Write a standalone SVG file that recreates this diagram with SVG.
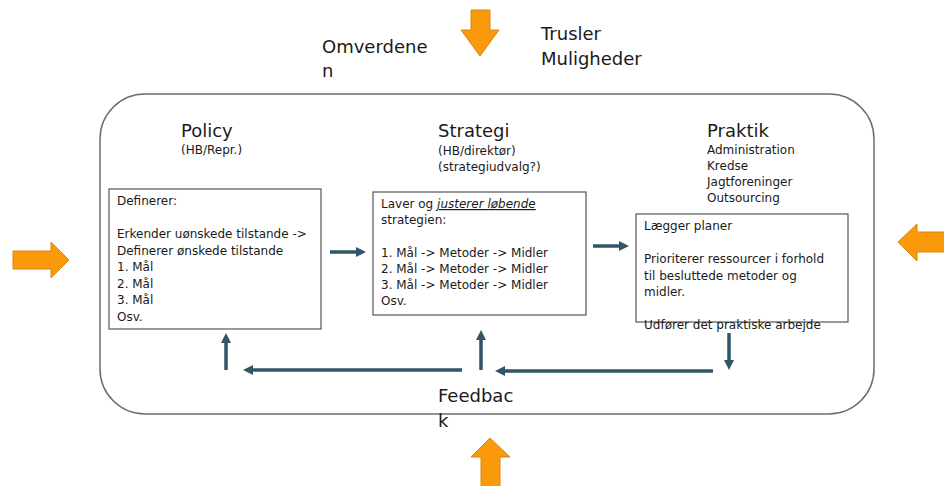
<svg xmlns="http://www.w3.org/2000/svg" width="944" height="486" viewBox="0 0 944 486">
<style>
text{font-family:"DejaVu Sans","Liberation Sans",sans-serif;fill:#1a1a1a}
.big{font-size:18px}
.title{font-size:18px}
.sub{font-size:12px}
.body{font-size:12px}
.box{fill:#fff;stroke:#555;stroke-width:1.2}
.orange{fill:#fa9a0a;stroke:#d98612;stroke-width:1}
.conn{stroke:#2f5567;stroke-width:3.5;fill:none}
</style>
<defs>
<marker id="ah" viewBox="0 0 10 10" refX="0" refY="5" markerUnits="userSpaceOnUse" markerWidth="10" markerHeight="11" orient="auto">
<path d="M0,0 L10,5 L0,10 z" fill="#2f5567"/>
</marker>
</defs>
<rect id="frame" x="100" y="94" width="774" height="320" rx="45" ry="45" fill="none" stroke="#6e6e6e" stroke-width="1.5"/>
<g id="arrow-top"><polygon class="orange" points="471,10 490,10 490,30 499,30 480,56 461,30 471,30"/></g>
<g id="arrow-bottom"><polygon class="orange" points="490,438 510,457 500,457 500,490 481,490 481,457 471,457"/></g>
<g id="arrow-left"><polygon class="orange" points="13,251 51,251 51,242 69,260 51,278 51,269 13,269"/></g>
<g id="arrow-right"><polygon class="orange" points="898,242 917,224 917,232 948,232 948,252 917,252 917,261"/></g>
<g id="omverdenen"><text class="big" x="322" y="53">Omverdene</text><text class="big" x="322" y="77">n</text></g>
<g id="trusler"><text class="big" x="541" y="40">Trusler</text><text class="big" x="541" y="65">Muligheder</text></g>
<g id="policy">
<text class="title" x="181" y="137">Policy</text>
<text class="sub" x="181" y="154">(HB/Repr.)</text>
<rect class="box" x="109" y="189" width="212" height="140"/>
<text class="body" x="117" y="205">Definerer:</text>
<text class="body" x="117" y="238">Erkender uønskede tilstande -&gt;</text>
<text class="body" x="117" y="254.5">Definerer ønskede tilstande</text>
<text class="body" x="117" y="271">1. Mål</text>
<text class="body" x="117" y="287.5">2. Mål</text>
<text class="body" x="117" y="304">3. Mål</text>
<text class="body" x="117" y="320.5">Osv.</text>
</g>
<g id="strategi">
<text class="title" x="438" y="137">Strategi</text>
<text class="sub" x="438" y="155">(HB/direktør)</text>
<text class="sub" x="438" y="171">(strategiudvalg?)</text>
<rect class="box" x="373" y="192" width="213" height="123"/>
<text class="body" x="381" y="208">Laver og <tspan font-style="italic" text-decoration="underline">justerer løbende</tspan></text>
<text class="body" x="381" y="224">strategien:</text>
<text class="body" x="381" y="257">1. Mål -&gt; Metoder -&gt; Midler</text>
<text class="body" x="381" y="273">2. Mål -&gt; Metoder -&gt; Midler</text>
<text class="body" x="381" y="289">3. Mål -&gt; Metoder -&gt; Midler</text>
<text class="body" x="381" y="305">Osv.</text>
</g>
<g id="praktik">
<text class="title" x="707" y="137">Praktik</text>
<text class="sub" x="707" y="154">Administration</text>
<text class="sub" x="707" y="170">Kredse</text>
<text class="sub" x="707" y="186">Jagtforeninger</text>
<text class="sub" x="707" y="202">Outsourcing</text>
<rect class="box" x="636" y="214" width="212" height="108"/>
<text class="body" x="644" y="230">Lægger planer</text>
<text class="body" x="644" y="263">Prioriterer ressourcer i forhold</text>
<text class="body" x="644" y="279.5">til besluttede metoder og</text>
<text class="body" x="644" y="296">midler.</text>
<text class="body" x="644" y="329">Udfører det praktiske arbejde</text>
</g>
<g id="feedback"><text class="big" x="438" y="402">Feedbac</text><text class="big" x="438" y="427">k</text></g>
<g id="connectors">
<line class="conn" x1="330" y1="252" x2="356" y2="252" marker-end="url(#ah)"/>
<line class="conn" x1="593" y1="246" x2="619" y2="246" marker-end="url(#ah)"/>
<line class="conn" x1="729" y1="333" x2="729" y2="360" marker-end="url(#ah)"/>
<line class="conn" x1="713" y1="371" x2="505" y2="371" marker-end="url(#ah)"/>
<line class="conn" x1="481" y1="370" x2="481" y2="340" marker-end="url(#ah)"/>
<line class="conn" x1="462" y1="370" x2="253" y2="370" marker-end="url(#ah)"/>
<line class="conn" x1="226" y1="370" x2="226" y2="343" marker-end="url(#ah)"/>
</g>
</svg>
